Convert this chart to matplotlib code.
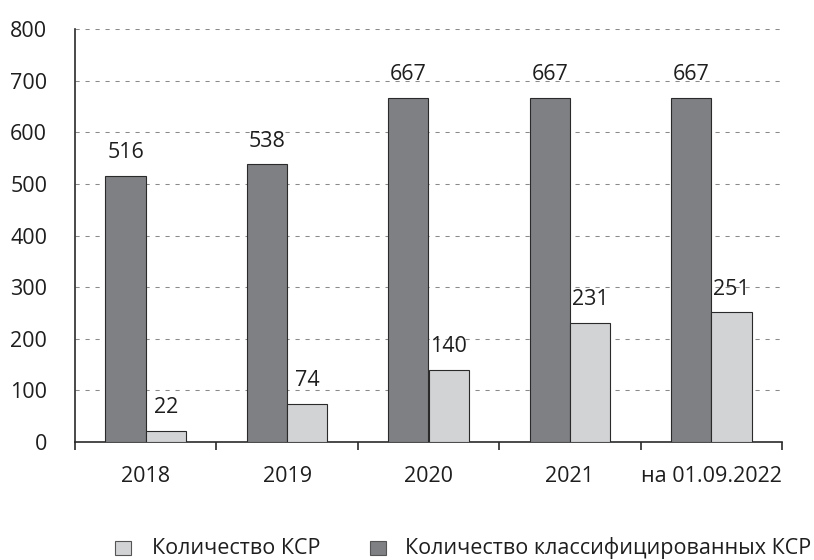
import matplotlib
matplotlib.use("Agg")
from matplotlib import pyplot as plt
from matplotlib.patches import Rectangle
import numpy as np

plt.rcParams['font.family'] = ['Open Sans', 'DejaVu Sans']

categories = ['2018', '2019', '2020', '2021', 'на 01.09.2022']
classified = [516, 538, 667, 667, 667]
ksr_total = [22, 74, 140, 231, 251]
y_ticks = [0, 100, 200, 300, 400, 500, 600, 700, 800]
legend_labels = ['Количество КСР', 'Количество классифицированных КСР']

DARK = '#7f8083'
LIGHT = '#d2d3d5'
EDGE = '#2a2a2a'
TXT = '#1e1e1e'
FS = 15.5

W, H = 814, 560
fig = plt.figure(figsize=(W/100, H/100), dpi=100)
ax = fig.add_axes([75/W, 118/H, 707/W, 413/H])

x = np.arange(len(categories))
w = 0.285
ax.bar(x - w/2, classified, w, color=DARK, edgecolor=EDGE, linewidth=0.8, zorder=3)
ax.bar(x + w/2, ksr_total, w, color=LIGHT, edgecolor=EDGE, linewidth=0.8, zorder=3)

for xi, v in zip(x, classified):
    ax.annotate(str(v), (xi - w/2, v), xytext=(0, 16.5), textcoords='offset points',
                ha='center', va='center', fontsize=FS, color=TXT, zorder=4)
for xi, v in zip(x, ksr_total):
    ax.annotate(str(v), (xi + w/2, v), xytext=(0, 16.5), textcoords='offset points',
                ha='center', va='center', fontsize=FS, color=TXT, zorder=4)

ax.set_xlim(-0.5, len(categories) - 0.5)
ax.set_ylim(0, 800)
ax.set_yticks(y_ticks)
ax.set_yticklabels([str(t) for t in y_ticks], fontsize=FS, color=TXT)
ax.tick_params(axis='y', length=0, pad=20)

# dashed grid
for t in y_ticks[1:]:
    ax.axhline(t, color='#8a8a8a', linestyle=(0, (4, 5.6)), linewidth=0.75, zorder=1)

# category boundary ticks on x axis
ax.set_xticks(np.arange(-0.5, len(categories) + 0.5, 1), minor=True)
ax.set_xticks(x)
ax.set_xticklabels(categories, fontsize=FS, color=TXT)
ax.tick_params(axis='x', which='major', length=0, pad=17)
ax.tick_params(axis='x', which='minor', length=5.5, width=1.2, color=EDGE, direction='out')

for s in ['top', 'right']:
    ax.spines[s].set_visible(False)
for s in ['left', 'bottom']:
    ax.spines[s].set_color(EDGE)
    ax.spines[s].set_linewidth(1.2)

# legend drawn by hand at the bottom
for (sq_x, tx_x), col, lab in zip([(115, 152), (370, 405)], [LIGHT, DARK], legend_labels):
    fig.add_artist(Rectangle((sq_x/W, (H-555)/H), 16/W, 14/H, transform=fig.transFigure,
                             facecolor=col, edgecolor='#555555', linewidth=0.8))
    fig.text(tx_x/W, (H-554)/H, lab, fontsize=FS, color=TXT, ha='left', va='baseline')

fig.savefig('out.png', dpi=100)
